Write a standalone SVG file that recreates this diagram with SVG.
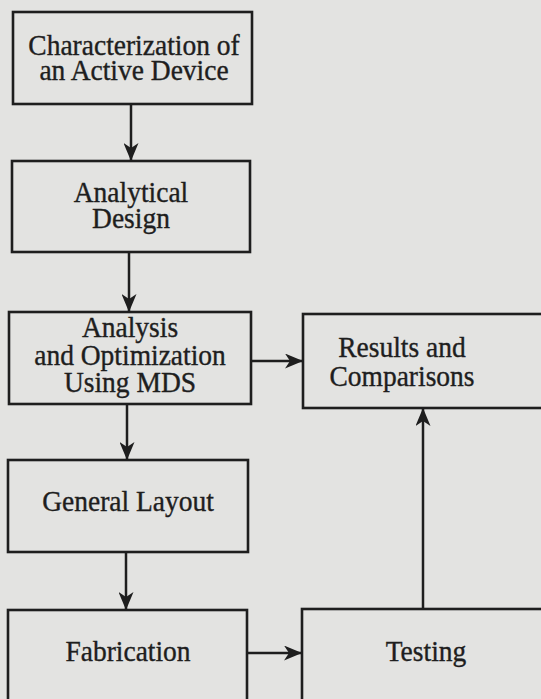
<svg xmlns="http://www.w3.org/2000/svg" width="541" height="699" viewBox="0 0 541 699">
<defs>
<marker id="ah" viewBox="0 0 18 15" refX="18" refY="7.5" markerWidth="18" markerHeight="15" markerUnits="userSpaceOnUse" orient="auto">
<path d="M0,0 L18,7.5 L0,15 L5,7.5 Z" fill="#1e1e1e"/>
</marker>
</defs>
<style>
.box{fill:none;stroke:#1e1e1e;stroke-width:2.6}
.t{font-family:"Liberation Serif","Times New Roman",serif;font-size:27.5px;fill:#1e1e1e;stroke:#1e1e1e;stroke-width:0.35;text-anchor:middle}
.c{stroke:#1e1e1e;stroke-width:2.5;fill:none;marker-end:url(#ah)}
</style>
<rect x="0" y="0" width="541" height="699" fill="#e3e3e1"/>
<g id="n1"><rect class="box" x="13" y="12" width="239" height="92"/>
<text class="t" transform="translate(134,55) scale(1,1.1)">Characterization of</text>
<text class="t" transform="translate(134,80) scale(1,1.1)">an Active Device</text></g>
<g id="n2"><rect class="box" x="12" y="161" width="238" height="91"/>
<text class="t" transform="translate(131,202) scale(1,1.1)">Analytical</text>
<text class="t" transform="translate(131,228) scale(1,1.1)">Design</text></g>
<g id="n3"><rect class="box" x="9" y="312" width="242" height="92"/>
<text class="t" transform="translate(130,337) scale(1,1.1)">Analysis</text>
<text class="t" transform="translate(130,365) scale(1,1.1)">and Optimization</text>
<text class="t" transform="translate(130,392) scale(1,1.1)">Using MDS</text></g>
<g id="n4"><rect class="box" x="303" y="314" width="250" height="94"/>
<text class="t" transform="translate(402,357) scale(1,1.1)">Results and</text>
<text class="t" transform="translate(402,386) scale(1,1.1)">Comparisons</text></g>
<g id="n5"><rect class="box" x="8" y="460" width="240" height="92"/>
<text class="t" transform="translate(128,511) scale(1,1.1)">General Layout</text></g>
<g id="n6"><rect class="box" x="8" y="610" width="239" height="95"/>
<text class="t" transform="translate(128,661) scale(1,1.1)">Fabrication</text></g>
<g id="n7"><rect class="box" x="302" y="609" width="250" height="95"/>
<text class="t" transform="translate(426,661) scale(1,1.1)">Testing</text></g>
<g id="connectors">
<line class="c" x1="131" y1="104" x2="131" y2="161"/>
<line class="c" x1="129" y1="252" x2="129" y2="312"/>
<line class="c" x1="251" y1="361" x2="303" y2="361"/>
<line class="c" x1="127" y1="404" x2="127" y2="460"/>
<line class="c" x1="126" y1="552" x2="126" y2="610"/>
<line class="c" x1="247" y1="653" x2="302" y2="653"/>
<line class="c" x1="423" y1="609" x2="423" y2="408"/>
</g>
</svg>
